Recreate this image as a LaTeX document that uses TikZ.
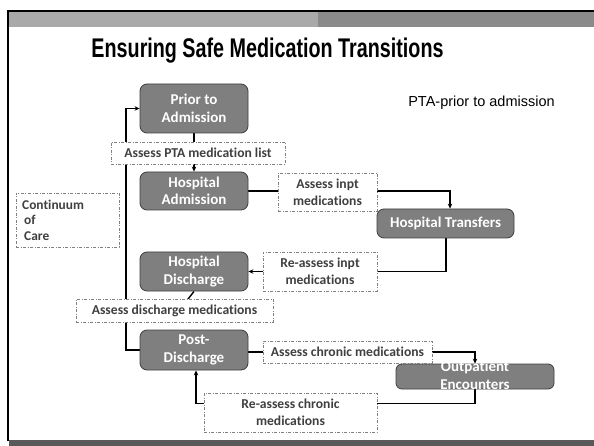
\documentclass[tikz,border=0pt]{standalone}
\usepackage{fontspec}
\usepackage{graphicx}
\setmainfont{Carlito}[Ligatures=NoCommon]
\newfontfamily\arialfont{Liberation Sans}
\usetikzlibrary{arrows.meta,positioning}
\pgfdeclarelayer{bg}
\pgfsetlayers{bg,main}
\definecolor{boxgray}{HTML}{7F7F7F}
\definecolor{boxedge}{HTML}{3F3F3F}
\definecolor{labeltext}{HTML}{404040}
\definecolor{dashgray}{HTML}{808080}
\definecolor{barlight}{HTML}{A9A9A9}
\definecolor{bardark}{HTML}{8A8A8A}
\definecolor{barbottom}{HTML}{595959}
\tikzset{
  stage/.style={draw=boxedge, line width=0.8pt, fill=boxgray, rounded corners=7pt,
    text=white, font=\fontsize{15}{17.5}\selectfont\bfseries, align=center, inner sep=0pt},
  tag/.style={draw=dashgray, line width=0.8pt, fill=white,
    dash pattern=on 3pt off 1.5pt on 1pt off 1.5pt,
    text=labeltext, font=\fontsize{13.6}{16.7}\selectfont\bfseries, align=center, inner sep=0pt},
  flow/.style={line width=1.4pt, black},
  tip/.style={-{Stealth[length=5pt,width=4.5pt]}},
}
\begin{document}
\begin{tikzpicture}[x=1pt,y=-1pt]
\useasboundingbox (0,0) rectangle (594,446);
\begin{pgfonlayer}{bg}
  \fill[white] (0,0) rectangle (594,446);
\end{pgfonlayer}
% slide frame and bars
\fill[barlight] (9,12) rectangle (318,27);
\fill[bardark] (318,12) rectangle (594,27);
\fill[barbottom] (9,440) rectangle (594,446);
\fill[black] (7,10) rectangle (594,12);
\fill[black] (7,10) rectangle (9,441);

% title
\node (title) at (267.5,51) {\arialfont\bfseries\fontsize{27}{30}\selectfont
  \resizebox{352pt}{\height}{Ensuring Safe Medication Transitions}};

\node (note) at (481.5,103) {\arialfont\fontsize{14.5}{17}\selectfont PTA-prior to admission};

% care stages
\node[stage, minimum width=108pt, minimum height=49pt] (prior) at (194,108.5) {Prior to\\Admission};
\node[stage, minimum width=108pt, minimum height=38pt] (hadm) at (194,191) {Hospital\\Admission};
\node[stage, minimum width=137pt, minimum height=29pt] (htr) at (445.5,223.5) {Hospital Transfers};
\node[stage, minimum width=108pt, minimum height=39pt] (hdis) at (194,271.5) {Hospital\\Discharge};
\node[stage, minimum width=108pt, minimum height=40pt] (post) at (194,350) {Post-\\Discharge};
\node[draw=boxedge, line width=0.8pt, fill=boxgray, rounded corners=6pt, inner sep=0pt,
  minimum width=158pt, minimum height=25pt] (outp) at (475,376.5) {};
\node[text=white, font=\fontsize{15}{18}\selectfont\bfseries, align=center, inner sep=0pt]
  (outptext) at ([yshift=1pt]outp.center) {Outpatient\\Encounters};

% assessment tags
\node[tag, minimum width=174pt, minimum height=22pt] (t1) at (198,153) {Assess PTA medication list};
\node[tag, minimum width=99pt, minimum height=38pt] (t2) at (327.5,192) {Assess inpt\\medications};
\node[tag, minimum width=114pt, minimum height=39pt] (t3) at (320,271.5) {Re-assess inpt\\medications};
\node[tag, minimum width=197pt, minimum height=23pt] (t4) at (174.5,310.5) {Assess discharge medications};
\node[tag, minimum width=169pt, minimum height=22pt] (t5) at (347.5,352) {Assess chronic medications};
\node[tag, minimum width=173pt, minimum height=39pt] (t6) at (290.5,412.5) {Re-assess chronic\\medications};
\node[tag, minimum width=103pt, minimum height=54pt] (cont) at (67.5,220) {};
\node[text=labeltext, font=\fontsize{13.4}{15.5}\selectfont\bfseries, align=left, inner sep=0pt,
  anchor=west] (conttext) at (22,220) {Continuum\\\hspace{2pt}of\\\hspace{2pt}Care};

% connectors
\coordinate (loop) at (126,350);
\coordinate (bend) at (126,310);
\begin{pgfonlayer}{bg}
  \draw[flow, tip] (prior.south) -- (hadm.north);
  \draw[flow, tip] (hadm.east) -| ([xshift=4.5pt]htr.north);
  \draw[flow, tip] ([xshift=0.5pt]htr.south) |- (hdis.east);
  \draw[flow] (hdis.south) -- ++(-7,9) -- (bend);
  \draw[flow, tip] (post.west) -- (loop) |- (prior.west);
  \draw[flow, tip] ([yshift=-2pt]post.east) -| (outp.north);
  \draw[flow, tip] (outp.south) |- ++(0,14) -| ([xshift=2pt]post.south);
\end{pgfonlayer}
\end{tikzpicture}
\end{document}
